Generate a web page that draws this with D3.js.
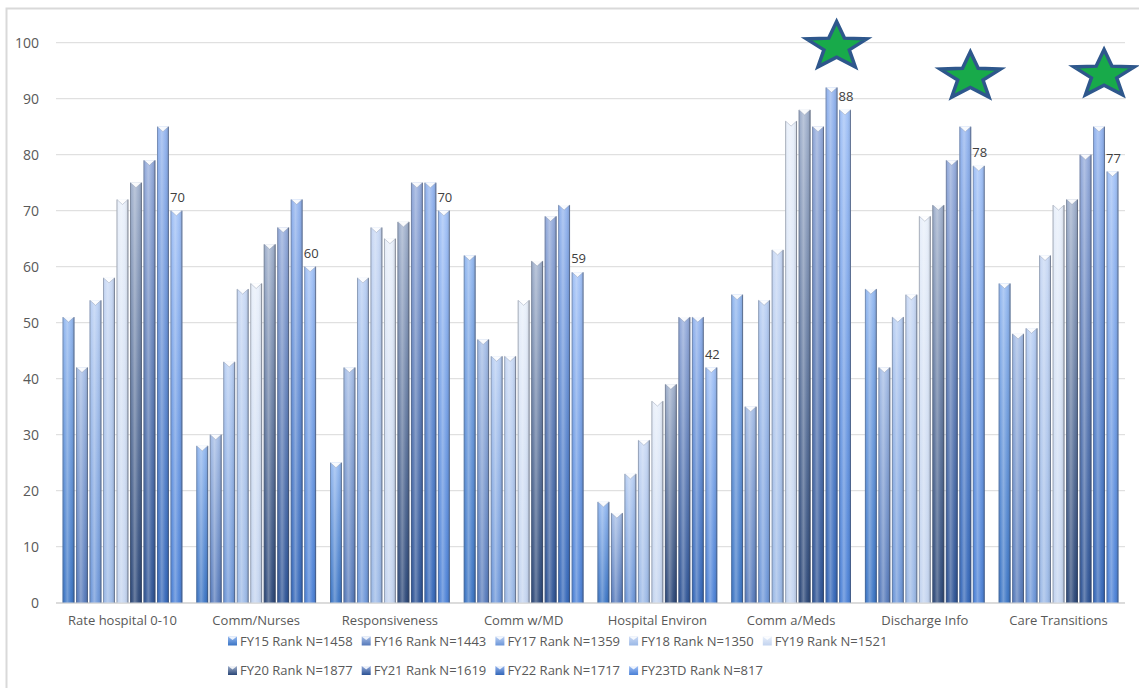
<!DOCTYPE html>
<html><head><meta charset="utf-8">
<script src="https://cdn.jsdelivr.net/npm/d3@7"></script>
<style>
html,body{margin:0;padding:0;background:#fff;}
svg text{font-family:"Open Sans","Noto Sans",sans-serif;}
</style></head>
<body><svg id="chart" width="1139" height="688"></svg>
<script>
const categories = ["Rate hospital 0-10","Comm/Nurses","Responsiveness","Comm w/MD","Hospital Environ","Comm a/Meds","Discharge Info","Care Transitions"];
const seriesNames = ["FY15 Rank N=1458","FY16 Rank N=1443","FY17 Rank N=1359","FY18 Rank N=1350","FY19 Rank N=1521","FY20 Rank N=1877","FY21 Rank N=1619","FY22 Rank N=1717","FY23TD Rank N=817"];
const fy15 = [51,28,25,62,18,55,56,57];
const fy16 = [42,30,42,47,16,35,42,48];
const fy17 = [54,43,58,44,23,54,51,49];
const fy18 = [58,56,67,44,29,63,55,62];
const fy19 = [72,57,65,54,36,86,69,71];
const fy20 = [75,64,68,61,39,88,71,72];
const fy21 = [79,67,75,69,51,85,79,80];
const fy22 = [85,72,75,71,51,92,85,85];
const fy23 = [70,60,70,59,42,88,78,77];
const seriesValues = [fy15,fy16,fy17,fy18,fy19,fy20,fy21,fy22,fy23];
const yTicks = [0,10,20,30,40,50,60,70,80,90,100];
const labeledSeries = 8; // data labels on FY23TD only
const stars = [{cat:"Comm a/Meds", value:99.3},{cat:"Discharge Info", value:93.9},{cat:"Care Transitions", value:94.3}];
// colors: [top, bottom]
const seriesColors = [["#93b8f0","#3a74c4"],["#a5bde6","#5579ba"],["#b9cff3","#6b95d8"],["#c8d8f4","#9ab8e6"],["#e8effa","#c2d3ef"],["#a0b0cc","#2a4677"],["#93aadb","#2c5294"],["#92b3ee","#3366b8"],["#a0c0f6","#4a80d6"]];

const svg = d3.select("#chart");
const defs = svg.append("defs");
seriesColors.forEach((c,i)=>{
  const g = defs.append("linearGradient").attr("id","g"+i).attr("x1",0).attr("y1",0).attr("x2",0).attr("y2",1);
  g.append("stop").attr("offset","0%").attr("stop-color",c[0]);
  g.append("stop").attr("offset","100%").attr("stop-color",c[1]);
});
const hg = defs.append("linearGradient").attr("id","hshade").attr("x1",0).attr("y1",0).attr("x2",1).attr("y2",0);
[[0,"#000",0.12],[0.15,"#fff",0.05],[0.4,"#fff",0.3],[0.7,"#fff",0.06],[0.9,"#000",0.08],[1,"#000",0.22]].forEach(s=>{
  hg.append("stop").attr("offset",s[0]).attr("stop-color",s[1]).attr("stop-opacity",s[2]);
});

// frame
svg.append("rect").attr("x",6.5).attr("y",8.5).attr("width",1150).attr("height",700)
  .attr("fill","none").attr("stroke","#d9d9d9").attr("stroke-width",2);

const plotLeft=56, plotRight=1125, plotTop=42.7, plotBottom=602.7;
const y = d3.scaleLinear().domain([0,100]).range([plotBottom,plotTop]);
const x0 = d3.scaleBand().domain(categories).range([plotLeft,plotRight]).paddingInner(0.08).paddingOuter(0.037);
const x1 = d3.scaleBand().domain(d3.range(seriesNames.length)).range([0,x0.bandwidth()]).padding(0.12);

// gridlines
svg.append("g").selectAll("line").data(yTicks).join("line")
  .attr("x1",plotLeft).attr("x2",plotRight).attr("y1",d=>y(d)).attr("y2",d=>y(d))
  .attr("stroke","#d9d9d9").attr("stroke-width",1);

// y axis labels
const yAxis = d3.axisLeft(y).tickValues(yTicks).tickSize(0).tickPadding(17);
const ya = svg.append("g").attr("transform",`translate(${plotLeft},0)`).call(yAxis);
ya.select(".domain").remove();
ya.selectAll("text").attr("fill","#595959").attr("font-size","14px").style("font-family","'Open Sans',sans-serif");

// bars
const groups = svg.append("g").selectAll("g").data(categories).join("g")
  .attr("transform",d=>`translate(${x0(d)},0)`);
const bw = x1.bandwidth();
groups.each(function(cat,ci){
  const g = d3.select(this);
  seriesValues.forEach((vals,si)=>{
    const v = vals[ci];
    const bx = x1(si), by = y(v), bh = y(0)-y(v);
    g.append("rect").attr("x",bx).attr("y",by).attr("width",bw).attr("height",bh).attr("fill",`url(#g${si})`);
    g.append("rect").attr("x",bx).attr("y",by).attr("width",bw).attr("height",bh).attr("fill","url(#hshade)");
    g.append("line").attr("x1",bx+0.5).attr("x2",bx+0.5).attr("y1",by).attr("y2",y(0))
      .attr("stroke","#5a6070").attr("stroke-opacity",0.35).attr("stroke-width",1);
    g.append("line").attr("x1",bx+bw-0.5).attr("x2",bx+bw-0.5).attr("y1",by).attr("y2",y(0))
      .attr("stroke","#4a5060").attr("stroke-opacity",0.5).attr("stroke-width",1);
    g.append("path").attr("d",`M${bx+0.5},${by}L${bx+bw-0.5},${by}L${bx+bw/2},${by+5}Z`)
      .attr("fill","#ffffff").attr("fill-opacity",0.92);
    g.append("path").attr("d",`M${bx+0.5},${by}L${bx+bw/2},${by+5}L${bx+bw-0.5},${by}`)
      .attr("fill","none").attr("stroke","#7d8aa0").attr("stroke-width",0.6).attr("stroke-opacity",0.6);
    if(si===labeledSeries){
      g.append("text").attr("x",bx+bw/2+1).attr("y",by-9).attr("text-anchor","middle")
        .attr("font-size","13px").attr("fill","#404040").text(v);
    }
  });
});

// x axis line
svg.append("line").attr("x1",plotLeft).attr("x2",plotRight).attr("y1",y(0)+0.5).attr("y2",y(0)+0.5)
  .attr("stroke","#d0d0d0").attr("stroke-width",1);

// category labels
const xAxis = d3.axisBottom(x0).tickSize(0).tickPadding(13);
const xa = svg.append("g").attr("transform",`translate(0,${y(0)})`).call(xAxis);
xa.select(".domain").remove();
xa.selectAll("text").attr("fill","#595959").attr("font-size","13px").style("font-family","'Open Sans',sans-serif");

// stars
function starPath(R,r,sx){
  const pts=[];
  for(let k=0;k<10;k++){
    const a=-Math.PI/2+k*Math.PI/5;
    const rr = k%2===0?R:r;
    pts.push([Math.cos(a)*rr*sx, Math.sin(a)*rr]);
  }
  return "M"+pts.map(p=>p.join(",")).join("L")+"Z";
}
svg.append("g").selectAll("path").data(stars).join("path")
  .attr("d",starPath(25,10.5,1.27))
  .attr("transform",d=>`translate(${x0(d.cat)+x0.bandwidth()*0.87},${y(d.value)})`)
  .attr("fill","#18aa4a").attr("stroke","#2e578c").attr("stroke-width",3.5).attr("stroke-linejoin","miter");

// legend
const legend = svg.append("g");
seriesNames.forEach((name,i)=>{
  const row = i<5?0:1, col = i<5?i:i-5;
  const lx = 228 + col*133.7, ly = 641 + row*29.5;
  const it = legend.append("g").attr("transform",`translate(${lx},${ly})`);
  it.append("rect").attr("x",0).attr("y",-4.5).attr("width",9).attr("height",9).attr("fill",`url(#g${i})`);
  it.append("path").attr("d","M0,-4.5L9,-4.5L4.5,-1Z").attr("fill","#fff").attr("fill-opacity",0.85);
  it.append("text").attr("x",12).attr("y",4.5).attr("font-size","13px").attr("fill","#595959").text(name);
});
</script></body></html>
